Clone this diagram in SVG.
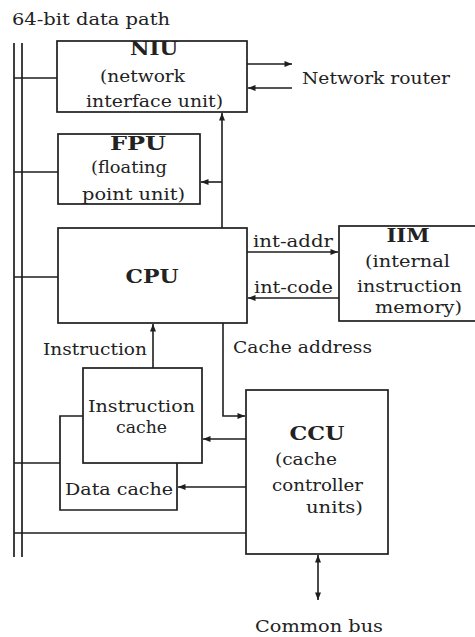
<svg xmlns="http://www.w3.org/2000/svg" width="475" height="637" viewBox="0 0 475 637">
<style>
  rect, polyline.box { fill: none; stroke: #1e1e1e; stroke-width: 1.7; }
  .c line, .c polyline { fill: none; stroke: #1e1e1e; stroke-width: 1.6; }
  text { font-family: "DejaVu Serif", "Liberation Serif", serif; font-size: 17px; fill: #222; }
  text.h { font-weight: bold; font-size: 18px; text-anchor: middle; }
</style>
<defs>
  <marker id="ah" viewBox="0 0 10 8" refX="10" refY="4" markerWidth="8" markerHeight="6" markerUnits="userSpaceOnUse" orient="auto-start-reverse">
    <path d="M0,0 L10,4 L0,8 Z" fill="#1e1e1e"/>
  </marker>
</defs>

<text x="12" y="25" textLength="158" lengthAdjust="spacingAndGlyphs">64-bit data path</text>

<g id="bus">
  <line x1="14" y1="43" x2="14" y2="557" stroke="#1e1e1e" stroke-width="1.7"/>
  <line x1="22" y1="43" x2="22" y2="557" stroke="#1e1e1e" stroke-width="1.7"/>
</g>

<g id="niu">
  <rect x="57" y="41" width="190" height="71"/>
  <text class="h" x="154" y="55" textLength="48" lengthAdjust="spacingAndGlyphs">NIU</text>
  <text x="100" y="82" textLength="85" lengthAdjust="spacingAndGlyphs">(network</text>
  <text x="86" y="107" textLength="137" lengthAdjust="spacingAndGlyphs">interface unit)</text>
</g>

<g id="fpu">
  <rect x="58" y="134" width="142" height="70"/>
  <text class="h" x="138" y="150" textLength="56" lengthAdjust="spacingAndGlyphs">FPU</text>
  <text x="91" y="173" textLength="76" lengthAdjust="spacingAndGlyphs">(floating</text>
  <text x="82" y="200" textLength="103" lengthAdjust="spacingAndGlyphs">point unit)</text>
</g>

<g id="cpu">
  <rect x="58" y="228" width="189" height="95"/>
  <text class="h" x="152" y="283" textLength="53" lengthAdjust="spacingAndGlyphs">CPU</text>
</g>

<g id="iim">
  <rect x="339" y="226" width="145" height="95"/>
  <text class="h" x="408" y="242" textLength="43" lengthAdjust="spacingAndGlyphs">IIM</text>
  <text x="365" y="267" textLength="85" lengthAdjust="spacingAndGlyphs">(internal</text>
  <text x="357" y="292" textLength="105" lengthAdjust="spacingAndGlyphs">instruction</text>
  <text x="375" y="313" textLength="87" lengthAdjust="spacingAndGlyphs">memory)</text>
</g>

<g id="router">
  <text x="302" y="84" textLength="148" lengthAdjust="spacingAndGlyphs">Network router</text>
</g>

<g id="icache">
  <rect x="83" y="368" width="119" height="95"/>
  <text x="88" y="412" textLength="107" lengthAdjust="spacingAndGlyphs">Instruction</text>
  <text x="116" y="433" textLength="51" lengthAdjust="spacingAndGlyphs">cache</text>
</g>

<g id="dcache">
  <polyline class="box" points="83,416 60,416 60,510 177,510 177,463"/>
  <text x="65" y="495" textLength="108" lengthAdjust="spacingAndGlyphs">Data cache</text>
</g>

<g id="ccu">
  <rect x="246" y="390" width="142" height="164"/>
  <text class="h" x="317" y="440" textLength="55" lengthAdjust="spacingAndGlyphs">CCU</text>
  <text x="275" y="465" textLength="62" lengthAdjust="spacingAndGlyphs">(cache</text>
  <text x="272" y="491" textLength="91" lengthAdjust="spacingAndGlyphs">controller</text>
  <text x="306" y="513" textLength="57" lengthAdjust="spacingAndGlyphs">units)</text>
</g>

<g id="commonbus">
  <text x="255" y="632" textLength="128" lengthAdjust="spacingAndGlyphs">Common bus</text>
</g>

<g id="connectors" class="c">
  <line x1="14" y1="78" x2="57" y2="78"/>
  <line x1="14" y1="172" x2="58" y2="172"/>
  <line x1="14" y1="277" x2="58" y2="277"/>
  <line x1="14" y1="463" x2="60" y2="463"/>
  <line x1="14" y1="533" x2="246" y2="533"/>
  <line x1="222" y1="228" x2="222" y2="113" marker-end="url(#ah)"/>
  <line x1="222" y1="182" x2="201" y2="182" marker-end="url(#ah)"/>
  <line x1="247" y1="64" x2="292" y2="64" marker-end="url(#ah)"/>
  <line x1="292" y1="88" x2="248" y2="88" marker-end="url(#ah)"/>
  <line x1="247" y1="252" x2="338" y2="252" marker-end="url(#ah)"/>
  <line x1="339" y1="298" x2="248" y2="298" marker-end="url(#ah)"/>
  <text x="253" y="247" textLength="80" lengthAdjust="spacingAndGlyphs">int-addr</text>
  <text x="254" y="293" textLength="79" lengthAdjust="spacingAndGlyphs">int-code</text>
  <line x1="153" y1="368" x2="153" y2="324" marker-end="url(#ah)"/>
  <text x="43" y="355" textLength="104" lengthAdjust="spacingAndGlyphs">Instruction</text>
  <polyline points="223,323 223,416 245,416" marker-end="url(#ah)"/>
  <text x="233" y="353" textLength="139" lengthAdjust="spacingAndGlyphs">Cache address</text>
  <line x1="246" y1="439" x2="203" y2="439" marker-end="url(#ah)"/>
  <line x1="246" y1="487" x2="178" y2="487" marker-end="url(#ah)"/>
  <line x1="318" y1="555" x2="318" y2="600" marker-start="url(#ah)" marker-end="url(#ah)"/>
</g>
</svg>
